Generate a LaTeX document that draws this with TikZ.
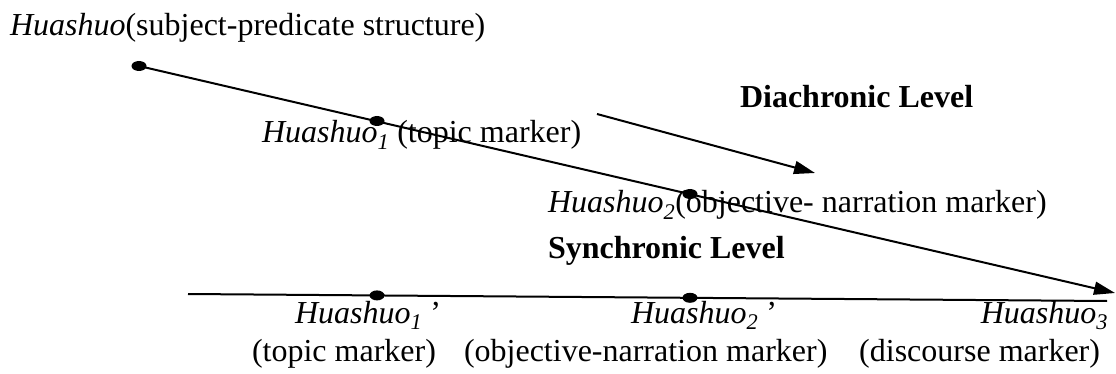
\documentclass[tikz,border=0pt]{standalone}
\usepackage{fontspec}
\setmainfont{Liberation Serif}
\usetikzlibrary{arrows.meta,shapes.geometric}
\begin{document}
\begin{tikzpicture}[x=1pt,y=-1pt,
  every node/.style={inner sep=0pt,outer sep=0pt,font=\fontsize{32}{38}\selectfont},
  dot/.style={ellipse,fill=black,minimum width=15pt,minimum height=10pt},
  line/.style={line width=2pt},
  arr/.style={line width=2pt,-{Triangle[length=21pt,width=13pt]}}]
\useasboundingbox (0,0) rectangle (1116,374);
\newcommand{\hs}[1]{\textit{Huashuo\textsubscript{#1}}}
% diachronic line with its stages
\node[dot] (dA) at (139,66) {};
\node[dot] (dB) at (377,121) {};
\node[dot] (dC) at (690,194) {};
\coordinate (dEnd) at (1115,293);
\draw[arr] (dA.center) -- (dEnd);
% direction arrow
\coordinate (sA) at (597,114);
\coordinate (sB) at (815,173);
\draw[arr] (sA) -- (sB);
% synchronic line
\coordinate (hL) at (188,294);
\coordinate (hR) at (1107,301);
\draw[line] (hL) -- (hR);
\node[dot] (hB) at (377,295.4) {};
\node[dot] (hC) at (690,297.8) {};
% labels
\node[anchor=base west] (t0) at (10,36) {\textit{Huashuo}(subject-predicate structure)};
\node[anchor=base west] (dia) at (740,108) {\textbf{Diachronic Level}};
\node[anchor=base west] (t1) at (262,143) {\hs{1} (topic marker)};
\node[anchor=base west] (t2) at (548,213) {\hs{2}(objective- narration marker)};
\node[anchor=base west] (syn) at (548,258) {\textbf{Synchronic Level}};
\node[anchor=base west] (s1) at (295,323) {\hs{1} ’};
\node[anchor=base west] (s2) at (631,323) {\hs{2} ’};
\node[anchor=base east] (s3) at (1108,323) {\hs{3}};
\node[anchor=base west] (b1) at (252,361) {(topic marker)};
\node[anchor=base west] (b2) at (464,361) {(objective-narration marker)};
\node[anchor=base east] (b3) at (1100,361) {(discourse marker)};
\end{tikzpicture}
\end{document}
